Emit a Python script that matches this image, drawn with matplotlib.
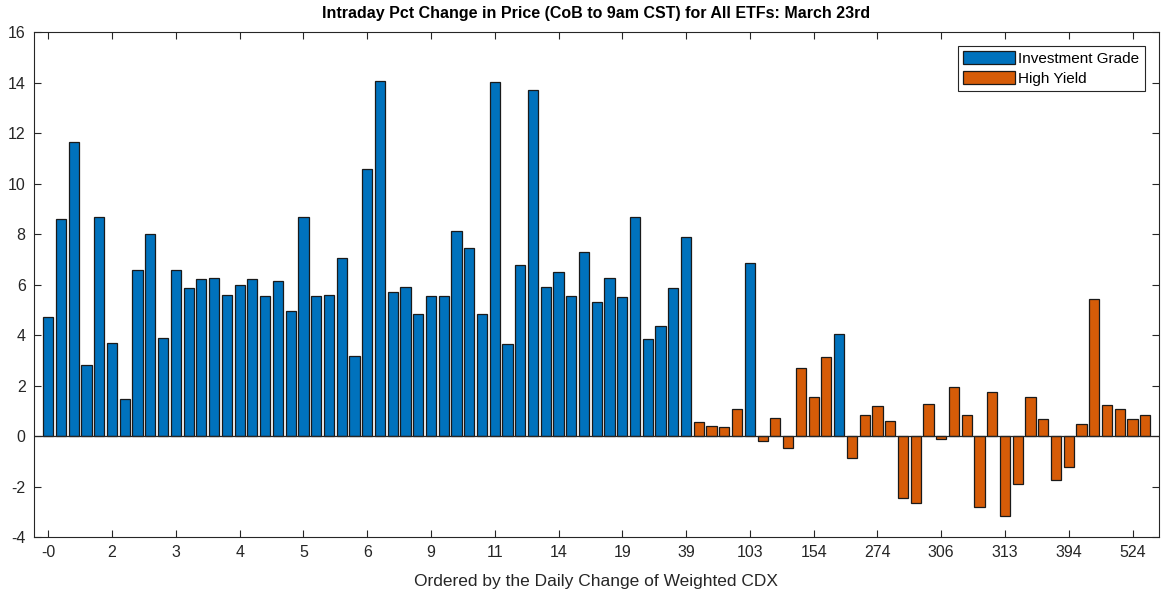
import matplotlib
matplotlib.use("Agg")
import matplotlib.pyplot as plt
import numpy as np

plt.rcParams['font.family'] = ['Liberation Sans', 'DejaVu Sans']
plt.rcParams['axes.unicode_minus'] = False

title = "Intraday Pct Change in Price (CoB to 9am CST) for All ETFs: March 23rd"
xlabel = "Ordered by the Daily Change of Weighted CDX"
series_names = ["Investment Grade", "High Yield"]

# percent change per ETF, ordered by daily change of weighted CDX
values = [
    4.73, 8.58, 11.65, 2.81, 8.68, 3.70, 1.48, 6.59, 8.01, 3.90,
    6.59, 5.86, 6.22, 6.27, 5.59, 6.00, 6.22, 5.54, 6.16, 4.97,
    8.68, 5.54, 5.59, 7.04, 3.17, 10.56, 14.06, 5.70, 5.90, 4.83,
    5.54, 5.54, 8.11, 7.44, 4.83, 14.01, 3.65, 6.77, 13.71, 5.90,
    6.51, 5.54, 7.29, 5.29, 6.27, 5.49, 8.67, 3.84, 4.36, 5.85,
    7.90, 0.55, 0.40, 0.36, 1.07, 6.87, -0.21, 0.73, -0.46, 2.71,
    1.53, 3.12, 4.04, -0.87, 0.82, 1.17, 0.61, -2.46, -2.67, 1.28,
    -0.10, 1.94, 0.82, -2.83, 1.73, -3.18, -1.89, 1.53, 0.66, -1.74,
    -1.24, 0.46, 5.41, 1.23, 1.08, 0.66, 0.82,
]
# 'IG' = Investment Grade, 'HY' = High Yield
groups = ['IG'] * 51 + ['HY'] * 4 + ['IG'] + ['HY'] * 6 + ['IG'] + ['HY'] * 24

tick_labels = ["-0", "2", "3", "4", "5", "6", "9", "11", "14", "19", "39",
               "103", "154", "274", "306", "313", "394", "524"]

values = np.array(values)
groups = np.array(groups)
x = np.arange(1, len(values) + 1)

ig_color = '#0072BD'
hy_color = '#D65C08'
axc = '#262626'

fig = plt.figure(figsize=(11.61, 5.95), dpi=100)
ax = fig.add_axes([0.0293, 0.0975, 0.9687, 0.8485])

m_ig = groups == 'IG'
m_hy = groups == 'HY'
ax.bar(x[m_ig], values[m_ig], width=0.8, color=ig_color, edgecolor='#1a1a1a',
       linewidth=0.9, label=series_names[0], zorder=2)
ax.bar(x[m_hy], values[m_hy], width=0.8, color=hy_color, edgecolor='#1a1a1a',
       linewidth=0.9, label=series_names[1], zorder=2)
ax.axhline(0, color=axc, linewidth=0.9, zorder=3)

ax.set_xlim(-0.12, 88.05)
ax.set_ylim(-4, 16)
ax.set_yticks(np.arange(-4, 17, 2))
ax.set_xticks(x[::5][:len(tick_labels)])
ax.set_xticklabels(tick_labels)

ax.tick_params(axis='both', direction='in', top=True, right=True, length=5,
               width=0.8, colors=axc, labelcolor=axc, labelsize=11.5, pad=6)
for sp in ax.spines.values():
    sp.set_color(axc)
    sp.set_linewidth(0.8)

ax.set_title(title, fontsize=11.5, fontweight='bold', color='black', pad=10)
ax.set_xlabel(xlabel, fontsize=12.5, color=axc, labelpad=10)

leg = ax.legend(loc='upper right', fontsize=11, frameon=True, fancybox=False,
                edgecolor=axc, framealpha=1, borderpad=0.35, handlelength=3.4,
                handleheight=0.9, handletextpad=0.2, labelspacing=0.35,
                borderaxespad=0.9)
leg.get_frame().set_linewidth(0.8)

fig.savefig('out.png', dpi=100)
